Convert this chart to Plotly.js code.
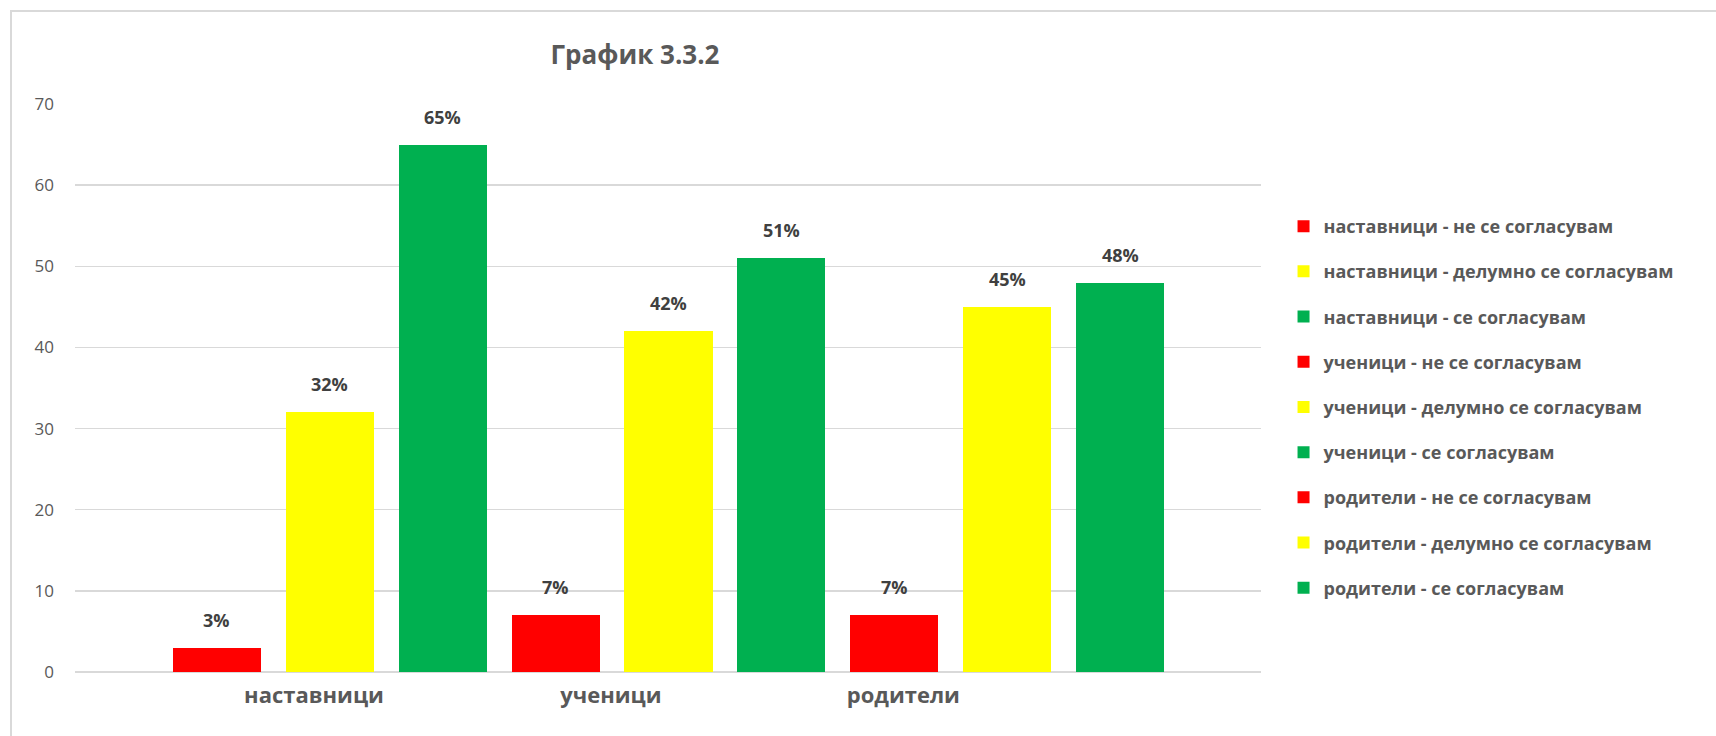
<!DOCTYPE html>
<html>
<head>
<meta charset="utf-8">
<script src="https://cdn.plot.ly/plotly-3.0.1.min.js"></script>
<style>
  html, body { margin: 0; padding: 0; background: #fff; }
  #wrap { position: relative; width: 1716px; height: 736px; overflow: hidden; }
  #chart { width: 1716px; height: 736px; }
  #frame { position: absolute; left: 10px; top: 10px; width: 1720px; height: 740px;
           border: 2px solid #d9d9d9; pointer-events: none; box-sizing: border-box; }
</style>
</head>
<body>
<div id="wrap">
  <div id="chart"></div>
  <div id="frame"></div>
</div>
<script>
const chartTitle = 'График 3.3.2';
const groups = ['наставници', 'ученици', 'родители'];
const responses = ['не се согласувам', 'делумно се согласувам', 'се согласувам'];
const teachers = [3, 32, 65];
const students = [7, 42, 51];
const parents = [7, 45, 48];
const yTicks = [0, 10, 20, 30, 40, 50, 60, 70];

const valuesByGroup = [teachers, students, parents];
const colors = ['#FF0000', '#FFFF00', '#00B050'];
const FONT = 'Open Sans, Liberation Sans, sans-serif';
const GREY = '#595959';

const traces = [];
const annotations = [];
let idx = 0;
groups.forEach((g, gi) => {
  responses.forEach((r, ri) => {
    const v = valuesByGroup[gi][ri];
    traces.push({
      type: 'bar',
      name: g + ' - ' + r,
      x: [idx],
      y: [v],
      width: 0.78,
      marker: { color: colors[ri] },
      legendgroup: 'g' + idx,
      hoverinfo: 'name+y'
    });
    annotations.push({
      x: idx, y: v, xref: 'x', yref: 'y',
      text: '<b>' + v + '%</b>',
      showarrow: false, yanchor: 'bottom', yshift: 14,
      font: { family: FONT, size: 18, color: '#404040' }
    });
    idx++;
  });
});

const layout = {
  width: 1716, height: 736,
  margin: { l: 75, r: 455, t: 104, b: 64 },
  paper_bgcolor: '#fff', plot_bgcolor: '#fff',
  title: {
    text: '<b>' + chartTitle + '</b>',
    font: { family: FONT, size: 26, color: GREY },
    x: 635 / 1716, xanchor: 'center', xref: 'container',
    y: 1 - 55 / 736, yanchor: 'middle', yref: 'container'
  },
  showlegend: true,
  legend: {
    x: 1.019, xanchor: 'left', y: 0.817, yanchor: 'top',
    traceorder: 'grouped', tracegroupgap: 18.8,
    font: { family: FONT, size: 18, color: GREY, weight: 'bold' },
    bgcolor: 'rgba(0,0,0,0)'
  },
  xaxis: {
    type: 'linear',
    range: [-1.257, 9.248],
    showgrid: false, zeroline: false, showline: false,
    tickvals: [0.86, 3.49, 6.08],
    ticktext: groups.map(g => '<b>' + g + '</b>'),
    ticks: '', ticklabelstandoff: 8,
    tickfont: { family: FONT, size: 22, color: GREY },
    fixedrange: true
  },
  yaxis: {
    range: [0, 70],
    tickvals: yTicks,
    showgrid: true, gridcolor: '#d9d9d9', gridwidth: 1.3,
    zeroline: true, zerolinecolor: '#d9d9d9', zerolinewidth: 2,
    showline: false, ticks: '', ticklabelstandoff: 20,
    tickfont: { family: FONT, size: 17, color: GREY },
    fixedrange: true
  },
  annotations: annotations,
  bargap: 0
};

Plotly.newPlot('chart', traces, layout, { displayModeBar: false, staticPlot: true });
</script>
</body>
</html>
